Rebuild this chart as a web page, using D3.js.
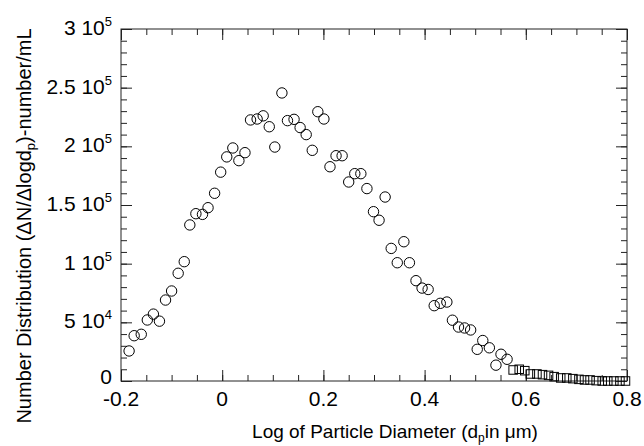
<!DOCTYPE html>
<html>
<head>
<meta charset="utf-8">
<script src="https://cdn.jsdelivr.net/npm/d3@7"></script>
<style>
  html, body { margin: 0; padding: 0; background: #fff; }
  svg { display: block; font-family: Arial, "Liberation Sans", Helvetica, sans-serif; }
</style>
</head>
<body>
<svg id="chart" width="644" height="446"></svg>
<script>
// Circle series (log of particle diameter, number distribution)
const circleX = [-0.184,-0.174,-0.160,-0.148,-0.136,-0.124,-0.112,-0.100,-0.087,-0.075,
  -0.064,-0.052,-0.039,-0.028,-0.015,-0.003,0.009,0.021,0.033,0.045,
  0.056,0.069,0.081,0.093,0.104,0.118,0.129,0.142,0.154,0.166,
  0.178,0.189,0.201,0.213,0.225,0.237,0.250,0.262,0.274,0.286,
  0.299,0.310,0.322,0.334,0.346,0.359,0.370,0.383,0.395,0.407,
  0.419,0.431,0.444,0.455,0.467,0.479,0.491,0.504,0.515,0.528,
  0.541,0.551,0.563];
const circleY = [25600,38600,39800,52000,57000,51000,69000,76700,91800,101700,
  133000,142600,142000,147700,160000,178000,191000,198600,187800,194600,
  222500,223300,226000,216700,199400,245500,221900,223000,216000,210000,
  196600,229500,223300,182600,192000,192000,169600,176700,176700,164000,
  144300,137000,156800,113000,100800,118700,100800,85500,79200,78000,
  64200,66200,67300,51800,46000,45200,43500,27000,34500,28300,
  13500,22800,18500];
// Square series
const squareX = [0.575,0.587,0.598,0.609,0.622,0.633,0.645,0.656,0.669,0.681,
  0.693,0.705,0.716,0.727,0.739,0.751,0.762,0.774,0.786,0.797];
const squareY = [9400,10000,8800,6000,6000,5400,4800,3700,2600,2600,
  2000,1400,900,900,300,0,0,0,0,0];
// Axis ticks
const xMajorTicks = [-0.2,0,0.2,0.4,0.6,0.8];
const xTickLabels = ["-0.2","0","0.2","0.4","0.6","0.8"];
const xMinorTicks = d3.range(-0.2, 0.8001, 0.05);
const yMajorTicks = [0,50000,100000,150000,200000,250000,300000];
const yTickMantissa = ["0","5","1","1.5","2","2.5","3"];
const yTickExponent = ["","4","5","5","5","5","5"];
const yMinorTicks = d3.range(0, 300001, 10000);

const svg = d3.select("#chart");
const L = 121, R = 627, T = 29, B = 381;
const x = d3.scaleLinear().domain([-0.2, 0.8]).range([L, R]);
const y = d3.scaleLinear().domain([0, 300000]).range([B, T]);

const axisColor = "#222";
function styleAxis(g) {
  g.select(".domain").remove();
  g.selectAll("line").attr("stroke", axisColor).attr("stroke-width", 1);
  g.selectAll("text").remove();
}
const MAJ = 11, MIN = 6;
// bottom
svg.append("g").attr("transform", `translate(0,${B})`)
  .call(d3.axisBottom(x).tickValues(xMinorTicks).tickSize(-MIN).tickFormat("")).call(styleAxis);
svg.append("g").attr("transform", `translate(0,${B})`)
  .call(d3.axisBottom(x).tickValues(xMajorTicks).tickSize(-MAJ).tickFormat("")).call(styleAxis);
// top
svg.append("g").attr("transform", `translate(0,${T})`)
  .call(d3.axisTop(x).tickValues(xMinorTicks).tickSize(-MIN).tickFormat("")).call(styleAxis);
svg.append("g").attr("transform", `translate(0,${T})`)
  .call(d3.axisTop(x).tickValues(xMajorTicks).tickSize(-MAJ).tickFormat("")).call(styleAxis);
// left
svg.append("g").attr("transform", `translate(${L},0)`)
  .call(d3.axisLeft(y).tickValues(yMinorTicks).tickSize(-MIN).tickFormat("")).call(styleAxis);
svg.append("g").attr("transform", `translate(${L},0)`)
  .call(d3.axisLeft(y).tickValues(yMajorTicks).tickSize(-MAJ).tickFormat("")).call(styleAxis);
// right
svg.append("g").attr("transform", `translate(${R},0)`)
  .call(d3.axisRight(y).tickValues(yMinorTicks).tickSize(-MIN).tickFormat("")).call(styleAxis);
svg.append("g").attr("transform", `translate(${R},0)`)
  .call(d3.axisRight(y).tickValues(yMajorTicks).tickSize(-MAJ).tickFormat("")).call(styleAxis);

// frame
svg.append("rect").attr("x", L).attr("y", T).attr("width", R - L).attr("height", B - T)
  .attr("fill", "none").attr("stroke", axisColor).attr("stroke-width", 1);

// x tick labels
svg.append("g").selectAll("text").data(xMajorTicks).join("text")
  .attr("x", d => x(d)).attr("y", 406)
  .attr("text-anchor", "middle").attr("font-size", 21).attr("fill", "#000")
  .text((d, i) => xTickLabels[i]);

// y tick labels
const yl = svg.append("g").selectAll("text").data(yMajorTicks).join("text")
  .attr("x", 112).attr("y", d => Math.min(y(d) + 6, 384))
  .attr("text-anchor", "end").attr("font-size", 21).attr("fill", "#000");
yl.each(function(d, i) {
  const t = d3.select(this);
  if (yTickExponent[i] === "") {
    t.text(yTickMantissa[i]);
  } else {
    t.append("tspan").text(yTickMantissa[i] + " 10");
    t.append("tspan").attr("font-size", 13).attr("dy", -9).text(yTickExponent[i]);
  }
});

// x axis title
const xt = svg.append("text").attr("x", 395).attr("y", 438)
  .attr("text-anchor", "middle").attr("font-size", 19).attr("fill", "#000");
xt.append("tspan").text("Log of Particle Diameter (d");
xt.append("tspan").attr("font-size", 12).attr("dy", 4).text("p");
xt.append("tspan").attr("dy", -4).text("in \u03BCm)");

// y axis title
const yt = svg.append("text").attr("transform", "translate(31,226) rotate(-90)")
  .attr("text-anchor", "middle").attr("font-size", 20).attr("fill", "#000");
yt.append("tspan").text("Number Distribution (\u0394N/\u0394logd");
yt.append("tspan").attr("font-size", 13).attr("dy", 4).text("p");
yt.append("tspan").attr("dy", -4).text(")-number/mL");

// data
const circles = circleX.map((v, i) => ({x: v, y: circleY[i]}));
const squares = squareX.map((v, i) => ({x: v, y: squareY[i]}));
const S = 8.5;
svg.append("g").selectAll("rect").data(squares).join("rect")
  .attr("x", d => x(d.x) - S / 2).attr("y", d => y(d.y) - S / 2)
  .attr("width", S).attr("height", S)
  .attr("fill", "none").attr("stroke", "#000").attr("stroke-width", 1);
svg.append("g").selectAll("circle").data(circles).join("circle")
  .attr("cx", d => x(d.x)).attr("cy", d => y(d.y)).attr("r", 5.2)
  .attr("fill", "none").attr("stroke", "#000").attr("stroke-width", 1);
</script>
</body>
</html>
